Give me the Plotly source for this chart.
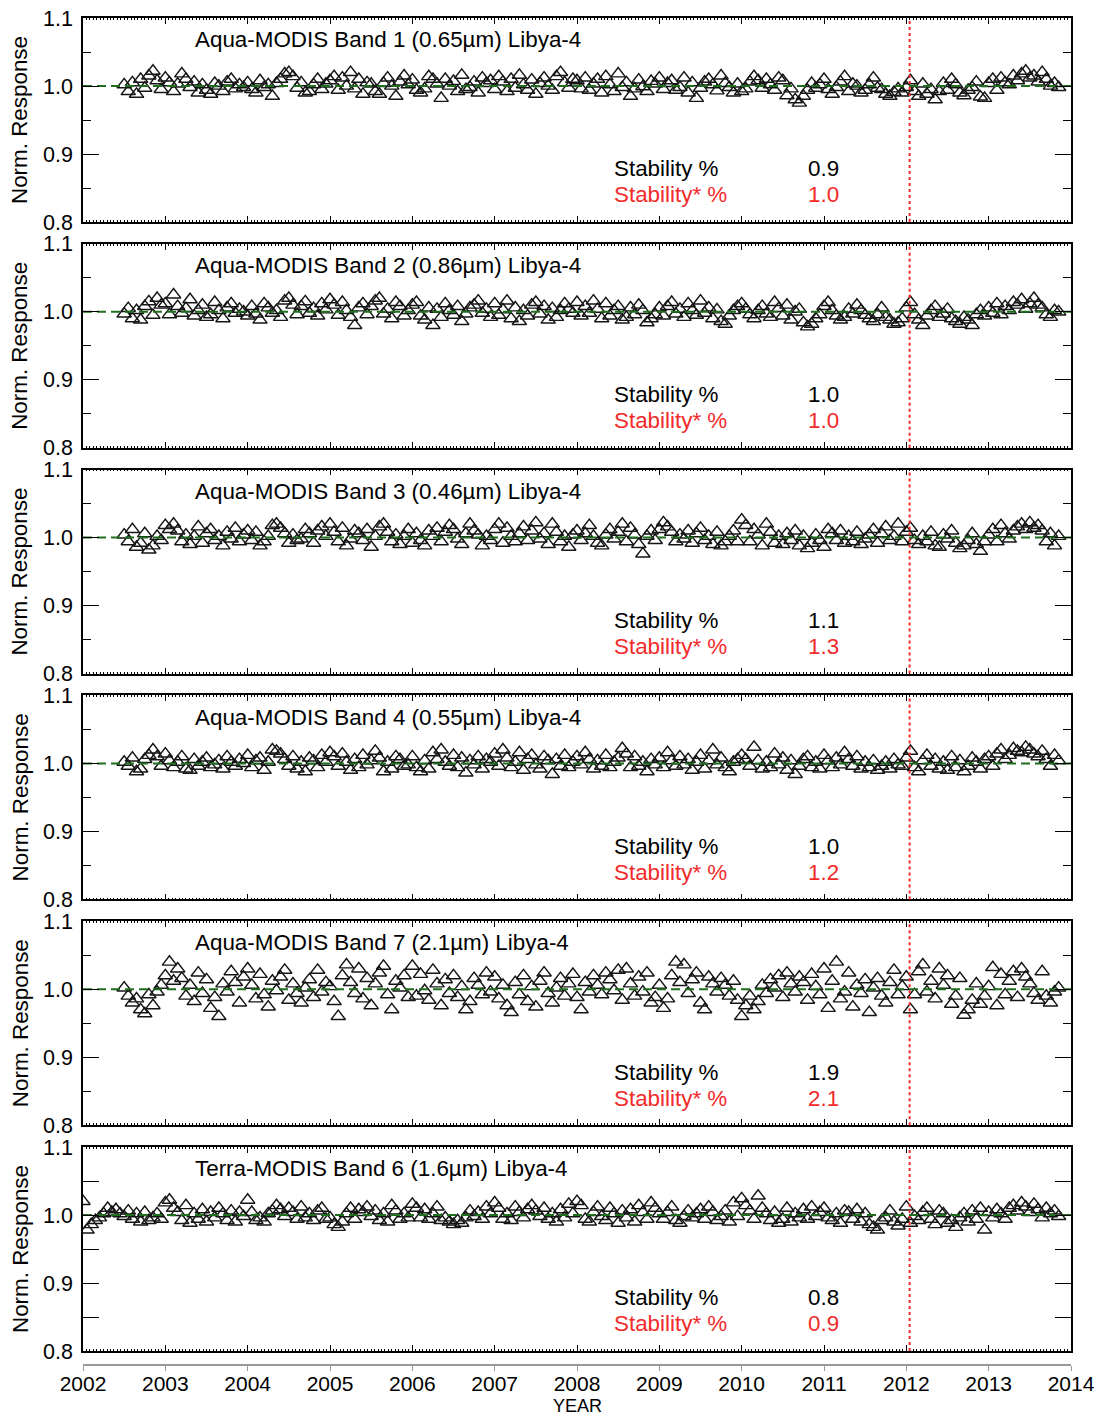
import plotly.graph_objects as go

# ---------------- data ----------------
aqua_dates = [
    2002.50, 2002.55, 2002.60, 2002.65, 2002.70, 2002.75, 2002.80, 2002.85, 2002.90, 2002.95,
    2003.00, 2003.05, 2003.10, 2003.15, 2003.20, 2003.25, 2003.30, 2003.35, 2003.40, 2003.45,
    2003.50, 2003.55, 2003.60, 2003.65, 2003.70, 2003.75, 2003.80, 2003.85, 2003.90, 2003.95,
    2004.00, 2004.05, 2004.10, 2004.15, 2004.20, 2004.25, 2004.30, 2004.35, 2004.40, 2004.45,
    2004.50, 2004.55, 2004.60, 2004.65, 2004.70, 2004.75, 2004.80, 2004.85, 2004.90, 2004.95,
    2005.00, 2005.05, 2005.10, 2005.15, 2005.20, 2005.25, 2005.30, 2005.35, 2005.40, 2005.45,
    2005.50, 2005.55, 2005.60, 2005.65, 2005.70, 2005.75, 2005.80, 2005.85, 2005.90, 2005.95,
    2006.00, 2006.05, 2006.10, 2006.15, 2006.20, 2006.25, 2006.30, 2006.35, 2006.40, 2006.45,
    2006.50, 2006.55, 2006.60, 2006.65, 2006.70, 2006.75, 2006.80, 2006.85, 2006.90, 2006.95,
    2007.00, 2007.05, 2007.10, 2007.15, 2007.20, 2007.25, 2007.30, 2007.35, 2007.40, 2007.45,
    2007.50, 2007.55, 2007.60, 2007.65, 2007.70, 2007.75, 2007.80, 2007.85, 2007.90, 2007.95,
    2008.00, 2008.05, 2008.10, 2008.15, 2008.20, 2008.25, 2008.30, 2008.35, 2008.40, 2008.45,
    2008.50, 2008.55, 2008.60, 2008.65, 2008.70, 2008.75, 2008.80, 2008.85, 2008.90, 2008.95,
    2009.00, 2009.05, 2009.10, 2009.15, 2009.20, 2009.25, 2009.30, 2009.35, 2009.40, 2009.45,
    2009.50, 2009.55, 2009.60, 2009.65, 2009.70, 2009.75, 2009.80, 2009.85, 2009.90, 2009.95,
    2010.00, 2010.05, 2010.10, 2010.15, 2010.20, 2010.25, 2010.30, 2010.35, 2010.40, 2010.45,
    2010.50, 2010.55, 2010.60, 2010.65, 2010.70, 2010.75, 2010.80, 2010.85, 2010.90, 2010.95,
    2011.00, 2011.05, 2011.10, 2011.15, 2011.20, 2011.25, 2011.30, 2011.35, 2011.40, 2011.45,
    2011.50, 2011.55, 2011.60, 2011.65, 2011.70, 2011.75, 2011.80, 2011.85, 2011.90, 2011.95,
    2012.00, 2012.05, 2012.10, 2012.15, 2012.20, 2012.25, 2012.30, 2012.35, 2012.40, 2012.45,
    2012.50, 2012.55, 2012.60, 2012.65, 2012.70, 2012.75, 2012.80, 2012.85, 2012.90, 2012.95,
    2013.00, 2013.05, 2013.10, 2013.15, 2013.20, 2013.25, 2013.30, 2013.35, 2013.40, 2013.45,
    2013.50, 2013.55, 2013.60, 2013.65, 2013.70, 2013.75, 2013.80, 2013.85,
]
terra_early_dates = [2002.00, 2002.05, 2002.10, 2002.15, 2002.20, 2002.25, 2002.30, 2002.35, 2002.40, 2002.45]
terra_dates = terra_early_dates + aqua_dates

# deviations from 1.0, in units of 0.001
band1_dev = [
    2, -8, 5, -12, 10, -3, 15, 22, 8, -5,
    12, 5, -8, 3, 18, 10, -2, 6, -10, 2, -6, -12, 4, 0, -8, 6, 10, -4, 2, -2,
    5, -5, -10, 8, -2, 2, -15, 4, 10, 18, 20, 14, -3, 5, -10, -8, 2, 10, -5, 3,
    8, 14, -6, 12, 0, 20, -4, 10, -12, 5, 3, -8, -12, 4, 12, 0, -15, 6, 15, 2,
    9, -6, -10, -4, 14, 10, 3, -18, 10, 0, 7, -8, 16, -5, -2, 6, -10, 12, 4, 8,
    -5, 14, 6, -8, 10, -3, 16, 2, -6, 9, -12, 4, 12, 0, -6, 14, 20, 5, -3, 10,
    8, -4, 12, -6, 3, 10, -10, 14, 2, -8, 18, -2, 5, -15, -4, 9, -1, -8, 7, 3,
    12, -5, 4, 8, -6, -2, 12, -10, 5, -18, -3, 6, 10, 2, -7, 15, 4, -2, -10, 3,
    -8, -4, 6, 14, 8, -3, 10, 2, -6, 12, 8, -14, -4, -20, -25, -15, -6, 4, -3, 2,
    10, -5, -12, -2, 6, 14, -8, 3, 0, -10, -6, 2, 12, -3, -5, -12, -15, -9, -4, -10,
    -2, 8, -8, -15, 3, -12, -5, -20, -8, 4, -6, 10, 2, -10, -14, -6, -2, 6, -16, -18,
    4, 10, -6, 12, 5, 2, 15, 8, 18, 22, 12, 15, 6, 20, 10, 0, 4, -2,
]
band2_dev = [
    -3, 5, -10, 2, -12, 8, 15, -5, 20, 10,
    12, -4, 25, 8, -2, 5, 18, -6, 2, 10, -8, -4, 14, 2, -10, 6, 12, -2, 4, 0,
    -6, 8, -3, -12, 12, 6, -2, 2, -8, 16, 20, 10, -4, 8, 15, -2, 5, -6, 12, 3,
    18, 10, -5, 14, 2, -8, -20, 6, 12, -4, 8, 16, 20, -3, 4, -10, 14, 8, -6, 2,
    10, 14, -6, -12, 6, -20, 4, -8, 12, 2, -5, 8, -14, -3, 6, 10, 16, -2, 4, -8,
    12, -5, 3, 16, -10, 6, -14, 2, -6, 10, 14, -3, 8, -12, 5, -8, 2, 12, 4, -2,
    14, -6, 8, -2, 16, 4, -10, 12, -6, 2, 8, -12, -8, 6, -4, 10, 2, -16, -10, -4,
    6, -6, 8, 14, -3, 4, -8, 12, 2, -5, 16, -2, 6, -10, 3, -14, -18, -6, 2, 8,
    12, 4, -4, -10, 2, 8, -3, -8, 14, 5, -6, 10, -12, 0, 4, -16, -22, -18, -10, -4,
    8, 14, 2, -6, -12, -8, 4, -3, 10, 2, -5, -10, -14, -4, 6, -8, -12, -18, -16, -10,
    6, 14, -4, -12, -20, -6, 2, 8, -8, -3, 4, -10, -14, -18, -8, -12, -20, -4, 2, -6,
    6, -2, 12, -4, 8, 2, 14, 10, 18, 4, 12, 20, 10, 6, -4, -8, 2, 0,
]
band3_dev = [
    4, -6, 12, -14, -8, 6, -18, -12, 2, -4,
    18, 12, 20, 10, -6, 4, -10, 2, 16, -8, 6, 12, -4, 2, -12, 8, -2, 14, -6, 4,
    10, -4, 8, -12, -6, 2, 18, 20, 14, 6, -8, 4, -4, -2, 12, 6, -8, 10, 16, 2,
    20, 8, -6, 14, -12, -2, 10, 6, -4, 12, -14, 2, 16, 20, 8, -6, 4, -10, 2, 12,
    -8, 6, -4, -12, 10, 2, 14, -6, 8, 18, 12, -2, -10, 6, 20, 10, 4, -12, 2, -4,
    12, 20, -8, 14, 2, -6, 6, 16, -4, 10, 22, -2, 6, -10, 20, 8, -6, 2, -14, 4,
    10, -4, 6, 18, 2, -8, -12, 4, 12, -2, 8, 20, -6, 14, 4, -10, -24, 2, 10, -4,
    12, 22, 16, 8, -6, 4, -2, 10, -8, 6, 14, -4, 2, -10, 8, -12, -6, 2, 10, -6,
    26, 18, -6, 12, 4, -12, 20, 8, -8, 2, -10, 6, -4, 10, -12, 2, -16, -8, 4, -4,
    -14, 12, 6, -4, 10, -8, 2, -6, 8, -10, -2, 4, 12, -8, 6, 16, -4, 2, 20, -6,
    8, 14, -4, -10, 2, -6, 8, -12, -14, 4, -2, 10, -8, -16, -12, -4, 6, -10, -20, -6,
    4, 12, -6, 18, 6, -2, 10, 16, 20, 12, 22, 14, 18, 10, -6, 6, -12, 2,
]
band4_dev = [
    2, -4, 8, -12, -8, 6, 12, 20, 10, -4,
    14, 4, -6, 2, 10, -8, -10, 6, -4, 2, 8, -6, -2, 4, -8, 10, 2, -4, 6, 0,
    12, -6, 4, 8, -10, 2, 20, 18, 14, 6, -4, 10, -8, 2, -12, 8, 4, -6, 12, 2,
    16, 10, -4, 14, 2, -10, 6, -6, 12, -2, 4, 18, 8, -12, 2, -8, 10, 6, -4, -2,
    10, -6, -12, 4, -8, 16, 6, 20, 2, -4, 12, -6, 8, -14, 4, -2, 10, -8, 6, 2,
    14, -4, 20, 8, -6, 2, 16, -10, 6, 12, -2, -8, 10, 4, -16, 6, -4, 12, -6, 2,
    10, -2, 16, 6, -8, 4, -4, 12, -6, 2, 8, 22, 14, -6, 10, -4, 2, -12, 6, -2,
    8, -6, 16, 4, -4, 10, -2, 6, -10, 2, 12, -8, 4, 20, -2, 8, -6, -12, 2, 6,
    12, 6, -4, 24, 4, -8, 2, -6, 14, -2, 8, -10, 4, -16, -4, 6, 10, -6, 2, -8,
    12, 4, -6, 8, -2, 16, 6, -4, 10, -8, 2, -6, 4, -10, -4, 2, -8, 6, -2, -4,
    8, 18, -6, -12, 4, 12, -4, 6, -8, 2, -10, 10, -6, 4, -12, -4, 8, 2, -8, 6,
    10, -4, 14, 20, 6, 12, 22, 18, 16, 24, 20, 14, 10, 18, 6, -4, 12, 4,
]
band7_dev = [
    2, -10, -20, -14, -30, -36, -8, -24, -4, 6,
    20, 40, 12, 30, 16, -10, 6, -18, 24, -6, 14, -28, -12, -40, 8, -4, 26, 10, -20, 18,
    30, 6, -14, 22, -8, -26, 12, -2, 18, 28, -16, 8, -6, -20, 2, 14, -12, 28, -4, 10,
    4, -18, -40, 20, 36, 10, -6, 30, -14, 16, -24, 8, 24, 34, -8, -30, 12, 2, 20, -12,
    34, -10, 22, -2, -16, 28, 8, -24, 14, -6, 20, -12, 4, -30, -18, 16, 6, -8, 24, -4,
    18, -14, 6, -24, -34, 10, -8, 20, -18, 4, -26, 12, 24, -6, -20, 2, 16, -10, 8, 22,
    -12, -30, 10, -4, 20, 6, -8, 24, 14, -2, 28, -16, 30, 8, -10, 18, -4, 24, -20, -12,
    6, -28, -14, 20, 40, 10, 36, -6, 14, 24, -20, -30, 18, 8, -4, 16, 6, -10, 12, -16,
    -40, -24, -10, -30, -18, 6, -6, 14, 2, 20, -12, 24, 8, -4, 18, 10, -16, 22, 4, -8,
    30, -28, 12, 40, -14, -4, 24, -26, 6, -6, 14, -34, 2, 16, -10, -20, 10, 28, -8, 4,
    18, -30, -8, 26, 36, -4, 12, -14, 30, 6, 20, -22, -10, 16, -38, -30, -16, 8, -22, -10,
    4, 32, -24, 22, -8, 12, 26, -12, 30, 18, 8, -6, -16, 26, -10, -20, -4, 2,
]
terra_band6_dev = [
    20, -22, -14, -8, -4, 2, 10, 4, 8, 2,
    -2, 6, -6, 2, -10, 4, -8, -4, 2, -6,
    18, 22, 10, 4, -8, 14, -12, 2, -6, 8, -10, 4, -4, 10, 2, -8, 6, -10, 4, -2,
    22, 4, -8, -4, -10, 2, 6, 14, 8, -2, 10, 4, -6, 12, -4, 2, -8, 6, 10, -6,
    -4, -14, -18, -10, 2, 10, -6, 8, 4, 12, -2, 6, -8, 2, -10, 14, 6, -6, 2, -4,
    16, 10, -4, 8, -6, 2, 12, -8, -4, -10, -14, -8, -12, -4, 6, -2, 4, -6, 12, 2,
    18, 10, -6, 2, -8, 12, 4, -4, 8, 14, 6, -2, 10, -6, 2, -10, 8, -4, 16, 2,
    20, 14, -6, -10, 4, 12, -2, -8, 10, 2, -12, 6, -4, 8, -10, 14, 4, -6, 18, 10,
    2, -6, 4, 12, -8, -12, -2, 6, -4, 2, 8, -6, 12, 4, -8, -2, 6, -10, 18, -2,
    24, 14, 6, -6, 28, 10, 2, -8, 4, -12, -6, 10, -10, 2, -4, 8, -6, 12, -2, 4,
    10, -4, -8, 2, -12, 6, 4, -6, 8, -10, 2, -14, -18, -22, -8, -4, 6, -10, -16, -6,
    12, -12, -2, -8, 4, 10, -6, -14, 6, 2, -12, -8, -18, -4, 2, -10, 6, -6, 10, -22,
    4, -4, 8, 2, -6, 10, 14, 6, 18, 12, 4, 16, 8, -4, 10, 2, 6, -2,
]

panel_titles = [
    "Aqua-MODIS Band 1 (0.65µm) Libya-4",
    "Aqua-MODIS Band 2 (0.86µm) Libya-4",
    "Aqua-MODIS Band 3 (0.46µm) Libya-4",
    "Aqua-MODIS Band 4 (0.55µm) Libya-4",
    "Aqua-MODIS Band 7 (2.1µm) Libya-4",
    "Terra-MODIS Band 6 (1.6µm) Libya-4",
]
stability = ["0.9", "1.0", "1.1", "1.0", "1.9", "0.8"]
stability_star = ["1.0", "1.0", "1.3", "1.2", "2.1", "0.9"]
panel_dates = [aqua_dates, aqua_dates, aqua_dates, aqua_dates, aqua_dates, terra_dates]
panel_devs = [band1_dev, band2_dev, band3_dev, band4_dev, band7_dev, terra_band6_dev]
marker_date = 2012.04
year_ticks = [2002, 2003, 2004, 2005, 2006, 2007, 2008, 2009, 2010, 2011, 2012, 2013, 2014]
y_ticks = [0.8, 0.9, 1.0, 1.1]
y_tick_text = ["0.8", "0.9", "1.0", "1.1"]

for d, v in zip(panel_dates, panel_devs):
    assert len(d) == len(v), (len(d), len(v))

# ---------------- layout geometry ----------------
W, H = 1095, 1418
TOP, BOT = 18, 1365          # plot area (pixels)
PH = BOT - TOP
panel_h = 204
panel_step = 225.8

RED = "#f22a2a"
GREEN = "#1f6f1f"
FONT = "Liberation Sans, Arial, Helvetica, sans-serif"
ANN_SIZE = 22.4

fig = go.Figure()
annotations = []
shapes = []
layout = {}

for i in range(6):
    n = i + 1
    xa = "x" if n == 1 else f"x{n}"
    ya = "y" if n == 1 else f"y{n}"
    top_px = TOP + i * panel_step
    bot_px = top_px + panel_h
    dom = [(BOT - bot_px) / PH, (BOT - top_px) / PH]

    ys = [1.0 + v / 1000.0 for v in panel_devs[i]]
    fig.add_trace(go.Scatter(
        x=panel_dates[i], y=ys, mode="markers", xaxis=xa, yaxis=ya,
        marker=dict(symbol="triangle-up-open", size=12.5, color="#151515",
                    line=dict(width=1.45, color="#151515")),
        hoverinfo="skip", showlegend=False))
    fig.add_trace(go.Scatter(
        x=[2002, 2014], y=[1.0, 1.0], mode="lines", xaxis=xa, yaxis=ya,
        line=dict(color=GREEN, width=2, dash="9px,5px"),
        hoverinfo="skip", showlegend=False))

    layout[f"xaxis{n}"] = dict(
        domain=[0, 1], anchor=ya, range=[2002, 2014],
        showline=True, linecolor="black", linewidth=1.5, mirror="allticks",
        ticks="inside", ticklen=6, tickwidth=1.3, tickcolor="black",
        tickvals=year_ticks, showticklabels=False, showgrid=False, zeroline=False,
        minor=dict(ticks="inside", dtick=1 / 24, tick0=2002, ticklen=2,
                   tickwidth=1, tickcolor="black", showgrid=False),
        automargin=False,
    )
    layout[f"yaxis{n}"] = dict(
        domain=dom, anchor=xa, range=[0.8, 1.1],
        showline=True, linecolor="black", linewidth=1.5, mirror="allticks",
        ticks="inside", ticklen=16, tickwidth=1.3, tickcolor="black",
        tickvals=y_ticks, ticktext=y_tick_text, showgrid=False, zeroline=False,
        tickfont=dict(size=21.5, color="black", family=FONT), ticklabelstandoff=4,
        minor=dict(ticks="inside", tickvals=[0.85, 0.95, 1.05], ticklen=8,
                   tickwidth=1.3, tickcolor="black", showgrid=False),
        automargin=False,
    )

    shapes.append(dict(type="line", xref=xa, yref=f"{ya} domain",
                       x0=marker_date, x1=marker_date, y0=0, y1=1,
                       line=dict(color=RED, width=2, dash="dot"), layer="above"))

    annotations.append(dict(x=2003.33, y=1.068, xref=xa, yref=ya, text=panel_titles[i],
                            showarrow=False, xanchor="left", yanchor="middle",
                            font=dict(size=ANN_SIZE, color="black", family=FONT)))
    annotations.append(dict(x=2008.43, y=0.878, xref=xa, yref=ya, text="Stability %",
                            showarrow=False, xanchor="left", yanchor="middle",
                            font=dict(size=ANN_SIZE, color="black", family=FONT)))
    annotations.append(dict(x=2010.78, y=0.878, xref=xa, yref=ya, text=stability[i],
                            showarrow=False, xanchor="left", yanchor="middle",
                            font=dict(size=ANN_SIZE, color="black", family=FONT)))
    annotations.append(dict(x=2008.43, y=0.840, xref=xa, yref=ya, text="Stability* %",
                            showarrow=False, xanchor="left", yanchor="middle",
                            font=dict(size=ANN_SIZE, color=RED, family=FONT)))
    annotations.append(dict(x=2010.78, y=0.840, xref=xa, yref=ya, text=stability_star[i],
                            showarrow=False, xanchor="left", yanchor="middle",
                            font=dict(size=ANN_SIZE, color=RED, family=FONT)))
    annotations.append(dict(x=(20 - 83) / 988, y=(dom[0] + dom[1]) / 2, xref="paper", yref="paper",
                            text="Norm. Response", textangle=-90, showarrow=False,
                            xanchor="center", yanchor="middle",
                            font=dict(size=ANN_SIZE, color="black", family=FONT)))

# separate year axis below the last panel
layout["xaxis7"] = dict(
    overlaying="x6", anchor="free", position=0, side="bottom", range=[2002, 2014],
    showline=True, linecolor="#9a9a9a", linewidth=1.5,
    ticks="outside", ticklen=5, tickwidth=1.3, tickcolor="#9a9a9a",
    tickvals=year_ticks, ticktext=[str(t) for t in year_ticks],
    tickfont=dict(size=21, color="black", family=FONT), ticklabelstandoff=-5,
    showgrid=False, zeroline=False, automargin=False,
)
fig.add_trace(go.Scatter(x=[2002], y=[0.5], xaxis="x7", yaxis="y6", mode="markers",
                         marker=dict(size=1, color="rgba(0,0,0,0)"),
                         hoverinfo="skip", showlegend=False))

annotations.append(dict(x=0.5, y=(BOT - 1406) / PH, xref="paper", yref="paper", text="YEAR",
                        showarrow=False, xanchor="center", yanchor="middle",
                        font=dict(size=18, color="black", family=FONT)))

fig.update_layout(
    width=W, height=H,
    margin=dict(l=83, r=24, t=TOP, b=H - BOT, autoexpand=False),
    paper_bgcolor="white", plot_bgcolor="white",
    font=dict(family=FONT, size=21, color="black"),
    showlegend=False,
    annotations=annotations, shapes=shapes,
    **layout,
)

fig.write_html("out.html")
